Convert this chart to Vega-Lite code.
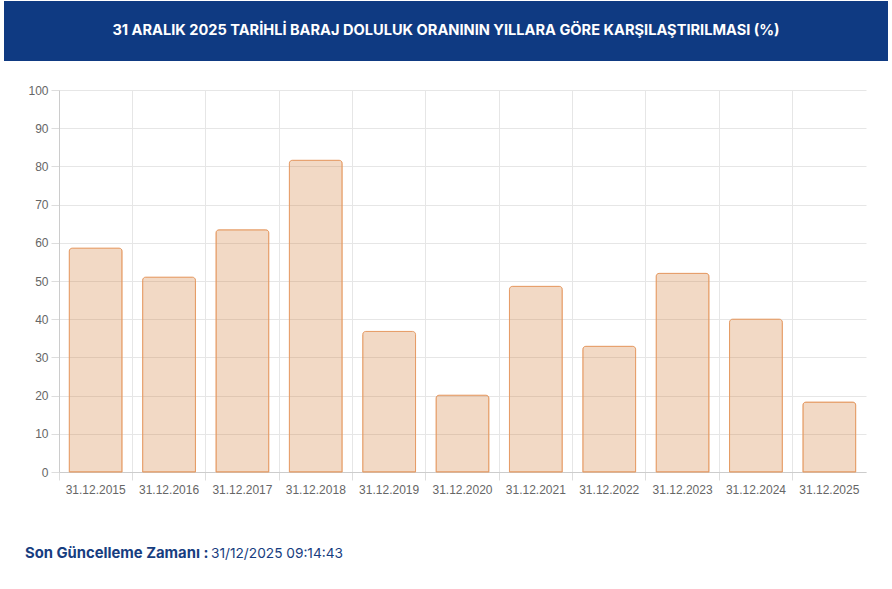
{
  "$schema": "https://vega.github.io/schema/vega-lite/v6.json",
  "background": "white",
  "padding": {"left": 4, "top": 1, "right": -29, "bottom": 0},
  "config": {"view": {"stroke": null}, "font": "Liberation Sans"},
  "datasets": {
    "levels": [
      {"date": "31.12.2015", "pct": 58.6},
      {"date": "31.12.2016", "pct": 51.0},
      {"date": "31.12.2017", "pct": 63.4},
      {"date": "31.12.2018", "pct": 81.6},
      {"date": "31.12.2019", "pct": 36.8},
      {"date": "31.12.2020", "pct": 20.1},
      {"date": "31.12.2021", "pct": 48.6},
      {"date": "31.12.2022", "pct": 32.9},
      {"date": "31.12.2023", "pct": 52.0},
      {"date": "31.12.2024", "pct": 40.0},
      {"date": "31.12.2025", "pct": 18.3}
    ],
    "header": [{"t": "31 ARALIK 2025 TARİHLİ BARAJ DOLULUK ORANININ YILLARA GÖRE KARŞILAŞTIRILMASI (%)"}],
    "footer": [{"a": "Son Güncelleme Zamanı :", "b": "31/12/2025 09:14:43"}]
  },
  "center": true,
  "spacing": 23,
  "vconcat": [
    {
      "width": 884,
      "height": 60,
      "view": {"fill": "#0f3a82", "stroke": null},
      "data": {"name": "header"},
      "mark": {"type": "text", "color": "white", "font": "Inter", "fontWeight": 700, "fontSize": 14.6, "align": "center", "baseline": "middle"},
      "encoding": {
        "text": {"field": "t"},
        "x": {"value": 442},
        "y": {"field": "t", "type": "nominal", "axis": {"orient": "right", "minExtent": 33, "maxExtent": 33, "labels": false, "ticks": false, "domain": false, "grid": false, "title": null}}
      }
    },
    {
      "width": 807,
      "height": 382,
      "data": {"name": "levels"},
      "mark": {"type": "bar", "fill": "#d4803e", "fillOpacity": 0.3, "stroke": "#e59a63", "strokeWidth": 1, "cornerRadiusTopLeft": 3, "cornerRadiusTopRight": 3},
      "encoding": {
        "x": {
          "field": "date", "type": "nominal", "sort": null,
          "scale": {"paddingInner": 0.28, "paddingOuter": 0.14},
          "axis": {"title": null, "labelAngle": 0, "bandPosition": -0.1944, "grid": true, "gridColor": "#e6e6e6", "domainColor": "#cccccc", "tickColor": "#dddddd", "tickSize": 8, "labelColor": "#666666", "labelFontSize": 12, "labelPadding": 4}
        },
        "y": {
          "field": "pct", "type": "quantitative",
          "scale": {"domain": [0, 100], "nice": false},
          "axis": {"title": null, "minExtent": 55, "maxExtent": 55, "values": [0, 10, 20, 30, 40, 50, 60, 70, 80, 90, 100], "gridColor": "#e6e6e6", "domainColor": "#cccccc", "tickColor": "#dddddd", "tickSize": 8, "labelColor": "#666666", "labelFontSize": 12, "labelPadding": 3}
        }
      }
    },
    {
      "width": 917,
      "height": 64,
      "data": {"name": "footer"},
      "layer": [
        {
          "mark": {"type": "text", "color": "#173d80", "font": "Inter", "fontWeight": 700, "fontSize": 14.8, "align": "left", "baseline": "middle"},
          "encoding": {"text": {"field": "a"}, "x": {"value": 21}, "y": {"value": 36}}
        },
        {
          "mark": {"type": "text", "color": "#173d80", "font": "Inter", "fontWeight": 400, "fontSize": 13.7, "align": "left", "baseline": "middle"},
          "encoding": {"text": {"field": "b"}, "x": {"value": 207}, "y": {"value": 36}}
        }
      ]
    }
  ]
}
